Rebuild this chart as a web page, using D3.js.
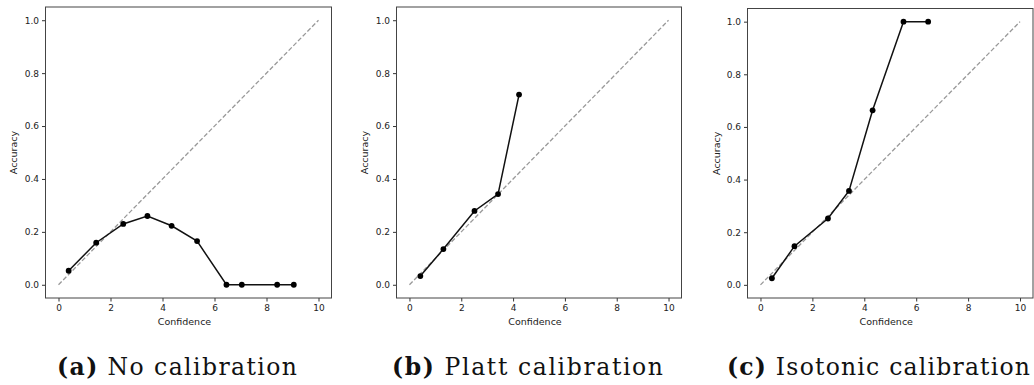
<!DOCTYPE html>
<html>
<head>
<meta charset="utf-8">
<script src="https://cdn.jsdelivr.net/npm/d3@7"></script>
<style>
  body { margin: 0; background: #fff; }
  .tick text { font-family: "DejaVu Sans", sans-serif; font-size: 9px; fill: #222; }
  .axisText { font-family: "DejaVu Sans", sans-serif; font-size: 9.5px; fill: #222; }
  .caption { font-family: "DejaVu Serif", serif; font-size: 23.5px; fill: #111; }
</style>
</head>
<body>
<div id="figure"></div>
<script>
var svgWidth = 1034;
var svgHeight = 385;

// panel captions
var captionTags = ["(a)", "(b)", "(c)"];
var captionTexts = ["No calibration", "Platt calibration", "Isotonic calibration"];

// reliability curves
var noCalConfidence = [0.39, 1.45, 2.49, 3.42, 4.35, 5.33, 6.46, 7.05, 8.41, 9.05];
var noCalAccuracy = [0.053, 0.159, 0.230, 0.260, 0.223, 0.165, 0, 0, 0, 0];

var plattConfidence = [0.42, 1.31, 2.51, 3.42, 4.23];
var plattAccuracy = [0.033, 0.135, 0.279, 0.343, 0.719];

var isoConfidence = [0.44, 1.31, 2.60, 3.41, 4.32, 5.51, 6.46];
var isoAccuracy = [0.025, 0.147, 0.252, 0.357, 0.663, 1.0, 1.0];

// perfect calibration reference
var diagConfidence = [0, 10];
var diagAccuracy = [0, 1];

var xTicks = [0, 2, 4, 6, 8, 10];
var yTicks = [0, 0.2, 0.4, 0.6, 0.8, 1.0];

var panels = [
    { x: noCalConfidence, y: noCalAccuracy, left: 45.5, right: 331.5, top: 7, bottom: 298, capL: 57, capR: 297, labX: 13.5 },
    { x: plattConfidence, y: plattAccuracy, left: 396.5, right: 681.5, top: 7, bottom: 298, capL: 392, capR: 663, labX: 365 },
    { x: isoConfidence, y: isoAccuracy, left: 747.5, right: 1033, top: 8.5, bottom: 298, capL: 727, capR: 1030, labX: 717 }
];

var svg = d3.select("#figure")
    .append("svg")
    .attr("width", svgWidth)
    .attr("height", svgHeight);

panels.forEach(function (p, i) {
    var xScale = d3.scaleLinear().domain([-0.5, 10.5]).range([p.left, p.right]);
    var yScale = d3.scaleLinear().domain([-0.05, 1.05]).range([p.bottom, p.top]);

    var g = svg.append("g");

    // axes
    g.append("g")
        .attr("transform", `translate(0, ${p.bottom})`)
        .call(d3.axisBottom(xScale).tickValues(xTicks).tickFormat(d3.format("d")).tickSizeOuter(0).tickSize(3.5).tickPadding(3))
        .call(s => s.select(".domain").remove())
        .call(s => s.selectAll(".tick line").attr("stroke", "#333"));

    g.append("g")
        .attr("transform", `translate(${p.left}, 0)`)
        .call(d3.axisLeft(yScale).tickValues(yTicks).tickFormat(d3.format(".1f")).tickSizeOuter(0).tickSize(3.5).tickPadding(3))
        .call(s => s.select(".domain").remove())
        .call(s => s.selectAll(".tick line").attr("stroke", "#333"));

    g.selectAll(".tick text").attr("font-family", null).attr("font-size", null);

    // frame
    g.append("rect")
        .attr("x", p.left)
        .attr("y", p.top)
        .attr("width", p.right - p.left)
        .attr("height", p.bottom - p.top)
        .attr("fill", "none")
        .attr("stroke", "#444")
        .attr("stroke-width", 1);

    // diagonal
    var diag = d3.line().x((d, j) => xScale(diagConfidence[j])).y((d, j) => yScale(diagAccuracy[j]));
    g.append("path")
        .attr("d", diag(diagConfidence))
        .attr("fill", "none")
        .attr("stroke", "#999")
        .attr("stroke-width", 1.3)
        .attr("stroke-dasharray", "4.5,2.2");

    // curve
    var line = d3.line().x((d, j) => xScale(p.x[j])).y((d, j) => yScale(p.y[j]));
    g.append("path")
        .attr("d", line(p.x))
        .attr("fill", "none")
        .attr("stroke", "#111")
        .attr("stroke-width", 1.5);

    g.selectAll("circle")
        .data(p.x)
        .enter()
        .append("circle")
        .attr("cx", d => xScale(d))
        .attr("cy", (d, j) => yScale(p.y[j]))
        .attr("r", 2.9)
        .attr("fill", "#000");

    // axis labels
    g.append("text")
        .attr("class", "axisText")
        .attr("x", (p.left + p.right) / 2 - 4)
        .attr("y", 325)
        .attr("text-anchor", "middle")
        .text("Confidence");

    g.append("text")
        .attr("class", "axisText")
        .attr("transform", `translate(${p.labX + 3}, ${(p.top + p.bottom) / 2}) rotate(-90)`)
        .attr("text-anchor", "middle")
        .text("Accuracy");

    // caption
    var cap = g.append("text")
        .attr("class", "caption")
        .attr("x", p.capL)
        .attr("y", 375)
        .attr("textLength", p.capR - p.capL)
        .attr("lengthAdjust", "spacing");
    cap.append("tspan").attr("font-weight", "bold").text(captionTags[i]);
    cap.append("tspan").text(" " + captionTexts[i]);
});
</script>
</body>
</html>
